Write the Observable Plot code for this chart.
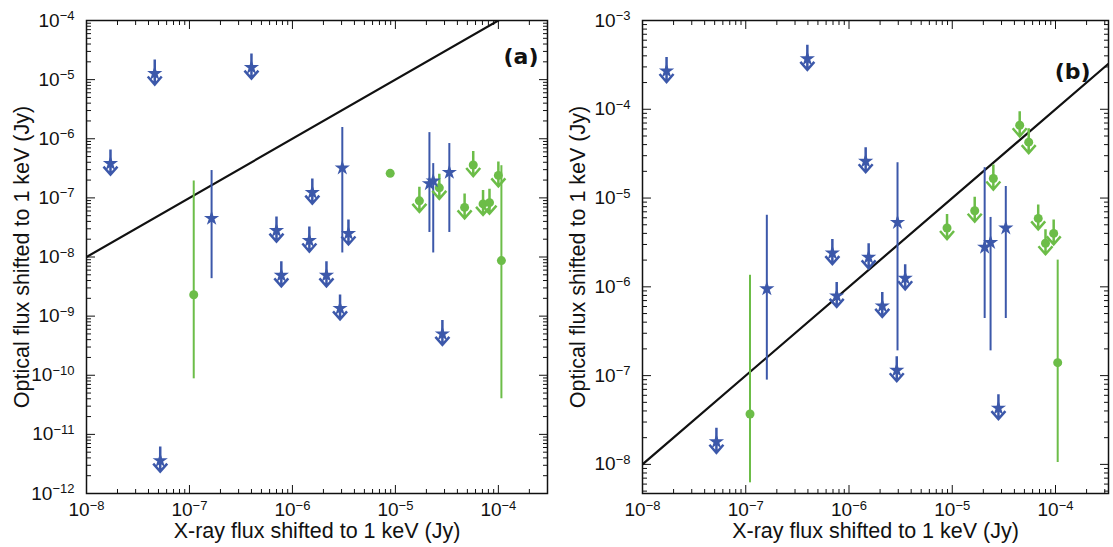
<!DOCTYPE html>
<html><head><meta charset="utf-8">
<script src="https://cdn.jsdelivr.net/npm/d3@7"></script>
<script src="https://cdn.jsdelivr.net/npm/@observablehq/plot@0.6"></script>
<style>
body{margin:0;background:#fff;}
#wrap{display:flex;width:1113px;height:547px;overflow:hidden;}
</style></head><body><div id="wrap"></div>
<script>
// ---- data: shared ----
const xTicks = [1e-8, 1e-7, 1e-6, 1e-5, 1e-4];
const aYTicks = [1e-12, 1e-11, 1e-10, 1e-9, 1e-8, 1e-7, 1e-6, 1e-5, 1e-4];
const bYTicks = [1e-8, 1e-7, 1e-6, 1e-5, 1e-4, 1e-3];
const diagX = [1e-8, 4e-4]; // F_opt = F_X reference line
const xLabel = "X-ray flux shifted to 1 keV (Jy)";
const yLabel = "Optical flux shifted to 1 keV (Jy)";

// ---- panel (a) ----
const aBlueLimX = [1.71e-8, 4.6e-8, 4.0e-7, 5.2e-8, 7.0e-7, 7.8e-7, 1.56e-6, 1.46e-6, 2.14e-6, 3.5e-6, 2.9e-6, 2.86e-5];
const aBlueLimY = [3.8e-7, 1.27e-5, 1.6e-5, 3.6e-12, 2.8e-8, 4.9e-9, 1.23e-7, 1.9e-8, 4.9e-9, 2.5e-8, 1.35e-9, 5.0e-10];
const aBlueDetX = [1.64e-7, 3.05e-6, 2.14e-5, 2.33e-5, 3.34e-5];
const aBlueDetY = [4.5e-8, 3.2e-7, 1.74e-7, 1.94e-7, 2.7e-7];
const aBlueDetLo = [4.3e-9, 1.17e-8, 2.6e-8, 1.17e-8, 2.6e-8];
const aBlueDetHi = [2.9e-7, 1.55e-6, 1.27e-6, 3.8e-7, 8.3e-7];
const aGreenLimX = [1.71e-5, 2.67e-5, 4.7e-5, 5.7e-5, 7.1e-5, 8.2e-5, 1.0e-4];
const aGreenLimY = [8.9e-8, 1.48e-7, 6.9e-8, 3.6e-7, 7.9e-8, 8.3e-8, 2.4e-7];
const aGreenDetX = [1.1e-7, 8.9e-6, 1.07e-4];
const aGreenDetY = [2.3e-9, 2.6e-7, 8.7e-9];
const aGreenDetLo = [8.7e-11, 2.6e-7, 4.0e-11];
const aGreenDetHi = [1.93e-7, 2.6e-7, 3.5e-7];

// ---- panel (b) ----
const bBlueLimX = [1.71e-8, 3.95e-7, 5.2e-8, 1.45e-6, 6.9e-7, 7.6e-7, 1.55e-6, 2.1e-6, 3.5e-6, 2.9e-6, 2.8e-5];
const bBlueLimY = [2.7e-4, 3.7e-4, 1.8e-8, 2.6e-5, 2.4e-6, 7.9e-7, 2.15e-6, 6.1e-7, 1.25e-6, 1.15e-7, 4.3e-8];
const bBlueDetX = [1.6e-7, 2.95e-6, 2.06e-5, 2.35e-5, 3.3e-5];
const bBlueDetY = [9.5e-7, 5.3e-6, 2.8e-6, 3.16e-6, 4.6e-6];
const bBlueDetLo = [8.9e-8, 1.9e-7, 4.4e-7, 1.9e-7, 4.4e-7];
const bBlueDetHi = [6.4e-6, 2.5e-5, 2.2e-5, 6.05e-6, 1.35e-5];
const bGreenLimX = [8.9e-6, 1.65e-5, 2.5e-5, 4.5e-5, 5.5e-5, 6.8e-5, 8.0e-5, 9.6e-5];
const bGreenLimY = [4.6e-6, 7.2e-6, 1.66e-5, 6.6e-5, 4.26e-5, 5.9e-6, 3.1e-6, 4.0e-6];
const bGreenDetX = [1.1e-7, 1.05e-4];
const bGreenDetY = [3.7e-8, 1.4e-7];
const bGreenDetLo = [6.2e-9, 1.05e-8];
const bGreenDetHi = [1.35e-6, 2.0e-6];

// ---- styling ----
const BLUE = "#3c58aa", GREEN = "#6cbd48", INK = "#111";
const FONT = "'Liberation Sans', Arial, Helvetica, sans-serif";
const fmtPow = d => "10^" + String(Math.round(Math.log10(d))).replace("-", "\u2212");
const isDec = d => Math.abs(Math.log10(d) - Math.round(Math.log10(d))) < 1e-6;
// upper-limit glyph: stem above, open chevron below
const limitGlyph = {draw(ctx) {
  ctx.moveTo(0, -14); ctx.lineTo(0, 11);
  ctx.moveTo(-7, 3); ctx.lineTo(0, 11); ctx.lineTo(7, 3);
}};
const rows = (X, Y, Lo, Hi) => X.map((x, i) => ({x, y: Y[i], lo: Lo ? Lo[i] : null, hi: Hi ? Hi[i] : null}));

// turn "10^-4" tick labels into "10" + raised smaller exponent (real text)
function superscriptTicks(svg) {
  svg.querySelectorAll('g[aria-label$="tick label"] text').forEach(t => {
    const s = t.textContent;
    const k = s.indexOf("^");
    if (k < 0) return;
    t.setAttribute("font-size", "19");
    t.textContent = s.slice(0, k);
    const ts = document.createElementNS("http://www.w3.org/2000/svg", "tspan");
    ts.setAttribute("font-size", "13");
    ts.setAttribute("dy", "-6.5");
    ts.textContent = s.slice(k + 1);
    t.appendChild(ts);
  });
  return svg;
}

function panel(o) {
  const xMinor = d3.scaleLog().domain(o.xDomain).ticks().filter(d => !isDec(d));
  const yMinor = d3.scaleLog().domain(o.yDomain).ticks().filter(d => !isDec(d));
  const blank = () => "";
  const svg = Plot.plot({
    width: o.width, height: 547,
    marginLeft: 86, marginRight: o.marginRight, marginTop: 20, marginBottom: 54,
    style: {fontFamily: FONT, fontSize: "19px", color: INK, background: "#fff"},
    x: {type: "log", domain: o.xDomain},
    y: {type: "log", domain: o.yDomain},
    marks: [
      Plot.axisX(xMinor, {anchor: "bottom", tickSize: -4, tickFormat: blank, label: null, stroke: INK}),
      Plot.axisX(xMinor, {anchor: "top", tickSize: -4, tickFormat: blank, label: null, stroke: INK}),
      Plot.axisY(yMinor, {anchor: "left", tickSize: -5, tickFormat: blank, label: null, stroke: INK}),
      Plot.axisY(yMinor, {anchor: "right", tickSize: -5, tickFormat: blank, label: null, stroke: INK}),
      Plot.axisX(xTicks, {anchor: "bottom", tickSize: -8, tickPadding: 17, tickFormat: fmtPow, label: null, fontSize: 19, stroke: INK}),
      Plot.axisX(xTicks, {anchor: "top", tickSize: -8, tickFormat: blank, label: null, stroke: INK}),
      Plot.axisY(o.yTicks, {anchor: "left", tickSize: -9, tickPadding: 21, tickFormat: fmtPow, label: null, fontSize: 19, stroke: INK}),
      Plot.axisY(o.yTicks, {anchor: "right", tickSize: -9, tickFormat: blank, label: null, stroke: INK}),
      Plot.frame({stroke: INK, strokeWidth: 1.5}),
      Plot.line(diagX, {x: d => d, y: d => d, stroke: INK, strokeWidth: 2.2, clip: true}),
      Plot.ruleX(o.greenDet, {x: "x", y1: "lo", y2: "hi", stroke: GREEN, strokeWidth: 2}),
      Plot.ruleX(o.blueDet, {x: "x", y1: "lo", y2: "hi", stroke: BLUE, strokeWidth: 2}),
      Plot.dot(o.greenLim, {x: "x", y: "y", symbol: limitGlyph, fill: "none", stroke: GREEN, strokeWidth: 2.5}),
      Plot.dot(o.greenLim, {x: "x", y: "y", r: 4.5, fill: GREEN, stroke: "none"}),
      Plot.dot(o.greenDet, {x: "x", y: "y", r: 4.5, fill: GREEN, stroke: "none"}),
      Plot.dot(o.blueLim, {x: "x", y: "y", symbol: limitGlyph, fill: "none", stroke: BLUE, strokeWidth: 2.5}),
      Plot.dot(o.blueLim, {x: "x", y: "y", symbol: "star", r: 4.8, fill: BLUE, stroke: "none"}),
      Plot.dot(o.blueDet, {x: "x", y: "y", symbol: "star", r: 4.8, fill: BLUE, stroke: "none"}),
      Plot.text([xLabel], {frameAnchor: "bottom", dy: 38, text: d => d, fontSize: 21.5, lineAnchor: "middle", textAnchor: "middle", fill: INK}),
      Plot.text([yLabel], {frameAnchor: "left", dx: -64, rotate: -90, text: d => d, fontSize: 21.5, lineAnchor: "middle", textAnchor: "middle", fill: INK}),
      Plot.text([o.tag], {frameAnchor: "top-right", dx: o.tagDx, dy: o.tagDy, text: d => d, textAnchor: "end", fontSize: 22, fontWeight: "bold", fontFamily: "'DejaVu Sans', sans-serif", fill: INK})
    ]
  });
  return superscriptTicks(svg);
}

const wrap = document.getElementById("wrap");
wrap.appendChild(panel({
  width: 556, marginRight: 9, xDomain: [1e-8, 3e-4], yDomain: [1e-12, 1e-4], yTicks: aYTicks,
  blueLim: rows(aBlueLimX, aBlueLimY), blueDet: rows(aBlueDetX, aBlueDetY, aBlueDetLo, aBlueDetHi),
  greenLim: rows(aGreenLimX, aGreenLimY), greenDet: rows(aGreenDetX, aGreenDetY, aGreenDetLo, aGreenDetHi),
  tag: "(a)", tagDx: -9, tagDy: 28
}));
wrap.appendChild(panel({
  width: 557, marginRight: 5, xDomain: [1e-8, 3.26e-4], yDomain: [4.7e-9, 1e-3], yTicks: bYTicks,
  blueLim: rows(bBlueLimX, bBlueLimY), blueDet: rows(bBlueDetX, bBlueDetY, bBlueDetLo, bBlueDetHi),
  greenLim: rows(bGreenLimX, bGreenLimY), greenDet: rows(bGreenDetX, bGreenDetY, bGreenDetLo, bGreenDetHi),
  tag: "(b)", tagDx: -18, tagDy: 43
}));
</script></body></html>
